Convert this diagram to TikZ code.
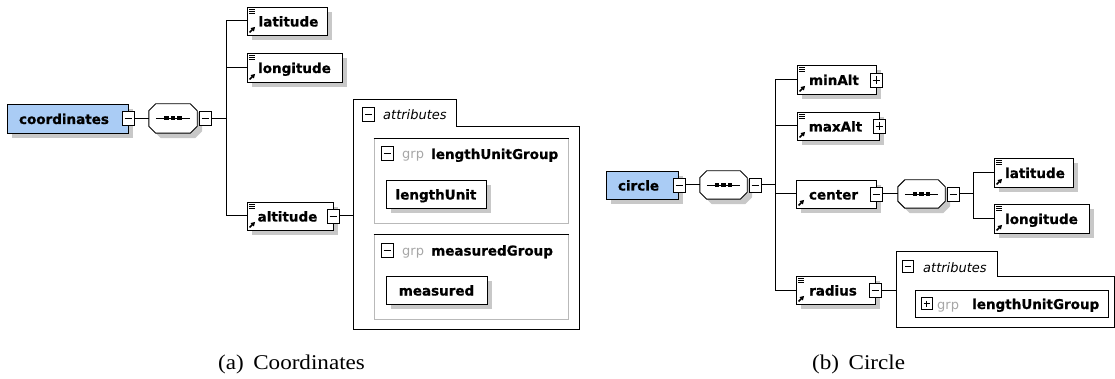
\documentclass[tikz,border=0pt]{standalone}
\usepackage{fontspec}
\setmainfont{DejaVu Sans}[BoldFeatures={FakeBold=0.8}]
\newfontfamily\capfont[FakeStretch=1.1]{Liberation Serif}
\usetikzlibrary{arrows.meta}
\definecolor{elemblue}{RGB}{170,204,245}
\definecolor{shadowgray}{RGB}{200,200,200}
\newcommand\octa[1]{%
  \fill[shadowgray, transform canvas={xshift=5pt,yshift=-5pt}] ([xshift=7pt]#1.north west) -- ([xshift=-7pt]#1.north east) -- ([yshift=-7pt]#1.north east) -- ([yshift=7pt]#1.south east) -- ([xshift=-7pt]#1.south east) -- ([xshift=7pt]#1.south west) -- ([yshift=7pt]#1.south west) -- ([yshift=-7pt]#1.north west) -- cycle;
  \draw[line width=0.9pt, fill=white] ([xshift=7pt]#1.north west) -- ([xshift=-7pt]#1.north east) -- ([yshift=-7pt]#1.north east) -- ([yshift=7pt]#1.south east) -- ([xshift=-7pt]#1.south east) -- ([xshift=7pt]#1.south west) -- ([yshift=7pt]#1.south west) -- ([yshift=-7pt]#1.north west) -- cycle;
  \draw[line width=0.9pt] ([xshift=7pt]#1.west) -- ([xshift=-7pt]#1.east);
  \foreach \dx in {-6.5,0,6.5} {\fill ([xshift=\dx pt]#1.center) +(-2.2pt,-2pt) rectangle +(2.2pt,2pt);}
}
\newcommand\lines[1]{\foreach \k in {0,1,2} {\draw[line width=0.9pt] ([xshift=2.5pt,yshift={-(2.5+2.2*\k)*1pt}]#1.north west) -- ++(6pt,0pt);}}
\newcommand\refarrow[1]{\draw[line width=1.5pt, -{Triangle[length=4pt,width=4.5pt]}] ([xshift=3pt,yshift=3pt]#1.south west) -- ++(5.5pt,5.5pt);}
\tikzset{
  lab/.style={font=\fontsize{13.5}{15}\selectfont\bfseries, text height=13pt, text depth=2pt},
  elem/.style={draw, line width=0.9pt, fill=white, inner sep=0pt, lab,
    preaction={fill=shadowgray, transform canvas={xshift=5pt,yshift=-5pt}}},
  root/.style={elem, fill=elemblue},
  tog/.style={draw, line width=0.8pt, fill=white, minimum width=12pt, minimum height=14pt, inner sep=0pt,
    path picture={\draw[line width=0.8pt] ([xshift=2.5pt]path picture bounding box.west) -- ([xshift=-2.5pt]path picture bounding box.east);}},
  togplus/.style={draw, line width=0.8pt, fill=white, minimum width=12pt, minimum height=14pt, inner sep=0pt,
    path picture={\draw[line width=0.8pt] ([xshift=2.5pt]path picture bounding box.west) -- ([xshift=-2.5pt]path picture bounding box.east);
      \draw[line width=0.8pt] ([yshift=-3pt]path picture bounding box.north) -- ([yshift=3pt]path picture bounding box.south);}},
  stog/.style={tog, minimum width=11pt, minimum height=12pt},
  stogplus/.style={togplus, minimum width=11pt, minimum height=12pt},
  seqbox/.style={minimum width=48pt, minimum height=29pt, inner sep=0pt},
  conn/.style={line width=1pt},
  body/.style={inner sep=0pt},
  outline/.style={line width=1pt},
  grpbox/.style={draw=gray!55, line width=1pt, inner sep=0pt},
  txt/.style={font=\fontsize{13}{15}\selectfont, text height=13pt, text depth=2pt, inner sep=0pt},
  itxt/.style={txt, font=\fontsize{13}{15}\selectfont\itshape},
  gtxt/.style={txt, text=gray!70},
  btxt/.style={lab, inner sep=0pt},
  captext/.style={font=\capfont\fontsize{21}{24}\selectfont, inner sep=0pt, anchor=base west}
}
\begin{document}
\begin{tikzpicture}[x=1pt,y=-1pt]
\useasboundingbox (0,0) rectangle (1115,379);

% ---------------- (a) coordinates ----------------
\node[root, minimum width=121pt, minimum height=29pt] (coord) at (67.5,118.5) {coordinates\hspace*{7pt}};
\node[tog] (tCoord) at (128,118.5) {};
\node[seqbox] (seqA) at (173,118.5) {};
\octa{seqA}
\node[tog] (tSeqA) at (205,118.5) {};
\coordinate (trA) at (226,118.5);

\node[elem, minimum width=80pt, minimum height=28pt] (latA) at (287,21) {\hspace*{3pt}latitude};
\lines{latA}\refarrow{latA}
\node[elem, minimum width=95pt, minimum height=29pt] (lonA) at (294.5,67.5) {longitude};
\lines{lonA}\refarrow{lonA}
\node[elem, minimum width=86pt, minimum height=28pt] (altA) at (290,216) {altitude\hspace*{5pt}};
\lines{altA}\refarrow{altA}
\node[tog] (tAlt) at (333,216) {};

\node[body, minimum width=225pt, minimum height=202pt] (attrA) at (466.5,228) {};
\draw[outline] (attrA.north west) -- ++(0pt,27pt) -| ([xshift=103pt]attrA.north west) -- (attrA.north east) -- (attrA.south east) -- (attrA.south west) -- cycle;
\node[tog] (tAttrA) at (368.5,114.5) {};
\node[itxt, anchor=west] (atxtA) at (383,114.5) {attributes};

\node[grpbox, minimum width=194pt, minimum height=85pt] (g1) at (471,181.5) {};
\draw[line width=1pt] (g1.north west) -- (g1.north east);
\node[tog] (tG1) at (387,153.5) {};
\node[gtxt, anchor=west] (grp1) at (402,153.5) {grp};
\node[btxt, anchor=west] (gn1) at (431,153.5) {lengthUnitGroup};
\node[elem, minimum width=100pt, minimum height=28pt] (lenU) at (436,194) {lengthUnit};

\node[grpbox, minimum width=194pt, minimum height=84pt] (g2) at (471,277) {};
\draw[line width=1pt] (g2.north west) -- (g2.north east);
\node[tog] (tG2) at (387,250) {};
\node[gtxt, anchor=west] (grp2) at (402,250) {grp};
\node[btxt, anchor=west] (gn2) at (431,250) {measuredGroup};
\node[elem, minimum width=101pt, minimum height=28pt] (meas) at (436.5,290) {measured};

\draw[conn] (tCoord.east) -- (seqA.west);
\draw[conn] (tSeqA.east) -- (trA);
\draw[conn] (trA) |- (latA.west);
\draw[conn] (trA) |- (lonA.west);
\draw[conn] (trA) |- (altA.west);
\draw[conn] (tAlt.east) -- (tAlt.east -| attrA.west);

% ---------------- (b) circle ----------------
\node[root, minimum width=72pt, minimum height=28pt] (circ) at (642,185) {circle\hspace*{7pt}};
\node[tog] (tCirc) at (679,185) {};
\node[seqbox, minimum width=47pt, minimum height=28pt] (seqB) at (723.5,185) {};
\octa{seqB}
\node[tog] (tSeqB) at (755,185) {};
\coordinate (trB) at (775,185);

\node[elem, minimum width=79pt, minimum height=29pt] (minAlt) at (836.5,79.5) {minAlt\hspace*{5pt}};
\lines{minAlt}\refarrow{minAlt}
\node[togplus] (tMin) at (876,80) {};
\node[elem, minimum width=82pt, minimum height=28pt] (maxAlt) at (838,126) {maxAlt\hspace*{5pt}};
\lines{maxAlt}\refarrow{maxAlt}
\node[togplus] (tMax) at (879,126) {};
\node[elem, minimum width=80pt, minimum height=28pt] (cent) at (836,194) {center\hspace*{5pt}};
\refarrow{cent}
\node[tog] (tCent) at (876,194) {};
\node[seqbox, minimum width=47pt, minimum height=28pt] (seqC) at (921.5,194) {};
\octa{seqC}
\node[tog] (tSeqC) at (953,194) {};
\coordinate (trC) at (973,194);
\node[elem, minimum width=79pt, minimum height=29pt] (latB) at (1033.5,172.5) {\hspace*{3pt}latitude};
\lines{latB}\refarrow{latB}
\node[elem, minimum width=95pt, minimum height=29pt] (lonB) at (1041.5,218.5) {longitude};
\lines{lonB}\refarrow{lonB}
\node[elem, minimum width=79pt, minimum height=28pt] (rad) at (835.5,290) {radius\hspace*{5pt}};
\lines{rad}\refarrow{rad}
\node[tog] (tRad) at (875,290) {};

\node[body, minimum width=217pt, minimum height=50pt] (attrB) at (1005.5,302) {};
\draw[outline] (attrB.north west) -- ++(0pt,25pt) -| ([xshift=101pt]attrB.north west) -- (attrB.north east) -- (attrB.south east) -- (attrB.south west) -- cycle;
\node[stog] (tAttrB) at (908,266.5) {};
\node[itxt, anchor=west] (atxtB) at (923,266.5) {attributes};
\node[draw, line width=1pt, inner sep=0pt, minimum width=193pt, minimum height=27pt] (gB) at (1011.5,303.5) {};
\node[stogplus] (tGB) at (926.5,303.5) {};
\node[gtxt, anchor=west] (grpB) at (937,303.5) {grp};
\node[btxt, anchor=west] (gnB) at (972,303.5) {lengthUnitGroup};

\draw[conn] (tCirc.east) -- (seqB.west);
\draw[conn] (tSeqB.east) -- (trB);
\draw[conn] (trB) |- (minAlt.west);
\draw[conn] (trB) |- (maxAlt.west);
\draw[conn] (trB) |- (cent.west);
\draw[conn] (trB) |- (rad.west);
\draw[conn] (tCent.east) -- (seqC.west);
\draw[conn] (tSeqC.east) -- (trC);
\draw[conn] (trC) |- (latB.west);
\draw[conn] (trC) |- (lonB.west);
\draw[conn] (tRad.east) -- (tRad.east -| attrB.west);

% ---------------- captions ----------------
\node[captext] (capA) at (218,369) {(a)\hspace{0.45em}Coordinates};
\node[captext] (capB) at (812,369) {(b)\hspace{0.45em}Circle};
\end{tikzpicture}
\end{document}
